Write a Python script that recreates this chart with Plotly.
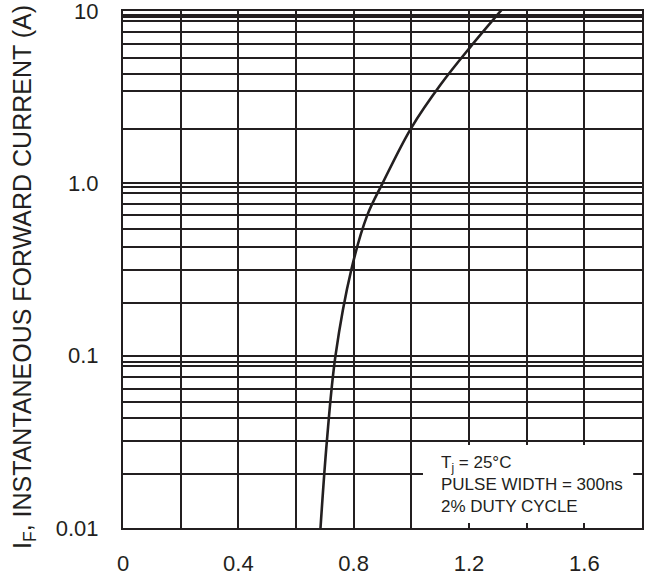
import plotly.graph_objects as go

# Forward voltage (V) vs instantaneous forward current (A)
vf = [0.685, 0.707, 0.737, 0.792, 0.847, 0.900, 1.000, 1.103, 1.205, 1.314]
i_f = [0.01, 0.0318, 0.1, 0.316, 0.652, 1.0, 2.1, 3.77, 6.2, 10.2]

# Axis ticks
x_tickvals = [0, 0.2, 0.4, 0.6, 0.8, 1.0, 1.2, 1.4, 1.6, 1.8]
x_ticktext = ["0", "", "0.4", "", "0.8", "", "1.2", "", "1.6", ""]
y_tickvals = [0.01, 0.1, 1, 10]
y_ticktext = ["0.01", "0.1", "1.0", "10"]

# Grid lines inside each decade (as drawn on the original sheet)
grid_top = [2.06, 3.43, 4.31, 5.33, 6.42, 7.55, 8.74, 9.23, 9.48]
grid_mid = [0.203, 0.316, 0.43, 0.541, 0.652, 0.755, 0.875, 0.948]
grid_low = [0.0205, 0.0318, 0.0432, 0.0535, 0.0644, 0.0756, 0.0875, 0.0923]

INK = "#231f20"
FONT = "Liberation Sans, Arial, sans-serif"

fig = go.Figure()
fig.add_trace(go.Scatter(
    x=vf, y=i_f, mode="lines",
    line=dict(color=INK, width=2.6, shape="spline", smoothing=1.0),
    hoverinfo="skip", showlegend=False,
))

fig.update_layout(
    width=648, height=575,
    margin=dict(l=123, r=6, t=11, b=47, autoexpand=False),
    paper_bgcolor="white", plot_bgcolor="white",
    font=dict(family=FONT, color=INK, size=22),
    showlegend=False,
    xaxis=dict(
        range=[0, 1.8], tickvals=x_tickvals, ticktext=x_ticktext,
        automargin=False,
        showgrid=True, gridcolor=INK, gridwidth=2,
        zeroline=False, showline=True, linecolor=INK, linewidth=2, mirror=True,
        ticks="outside", ticklen=15, tickcolor="rgba(0,0,0,0)",
        tickfont=dict(size=22, family=FONT, color=INK),
    ),
    yaxis=dict(
        type="log", range=[-2.0002, 1.0002], tickvals=y_tickvals, ticktext=y_ticktext,
        automargin=False,
        showgrid=True, gridcolor=INK, gridwidth=2,
        zeroline=False, showline=True, linecolor=INK, linewidth=2, mirror=True,
        ticks="outside", ticklen=18, tickcolor="rgba(0,0,0,0)",
        ticklabeloverflow="allow",
        tickfont=dict(size=22, family=FONT, color=INK),
        minor=dict(tickvals=grid_low + grid_mid + grid_top, showgrid=True,
                   gridcolor=INK, gridwidth=2, ticks=""),
    ),
)

# White legend box for the test conditions
fig.add_shape(type="rect", xref="paper", yref="paper",
              x0=0.578, x1=0.983, y0=0.0097, y1=0.1605,
              fillcolor="white", line=dict(width=0), layer="above")

fig.add_annotation(
    x=1.096, y=-1.746, xref="x", yref="y", xanchor="left", yanchor="middle",
    align="left", showarrow=False,
    text="T<sub>j</sub> = 25°C<br>PULSE WIDTH = 300ns<br>2% DUTY CYCLE",
    font=dict(family=FONT, size=17, color=INK),
)

# Y axis title
fig.add_annotation(
    x=-0.1908, y=0.4855, xref="paper", yref="paper",
    xanchor="center", yanchor="middle", textangle=-90, showarrow=False,
    text="I<sub>F</sub>, INSTANTANEOUS FORWARD CURRENT (A)",
    font=dict(family=FONT, size=25, color=INK),
)

fig.write_html(
    "out.html",
    config={"displayModeBar": False},
    post_script="document.body.style.margin='0';document.body.style.overflow='hidden';",
)
